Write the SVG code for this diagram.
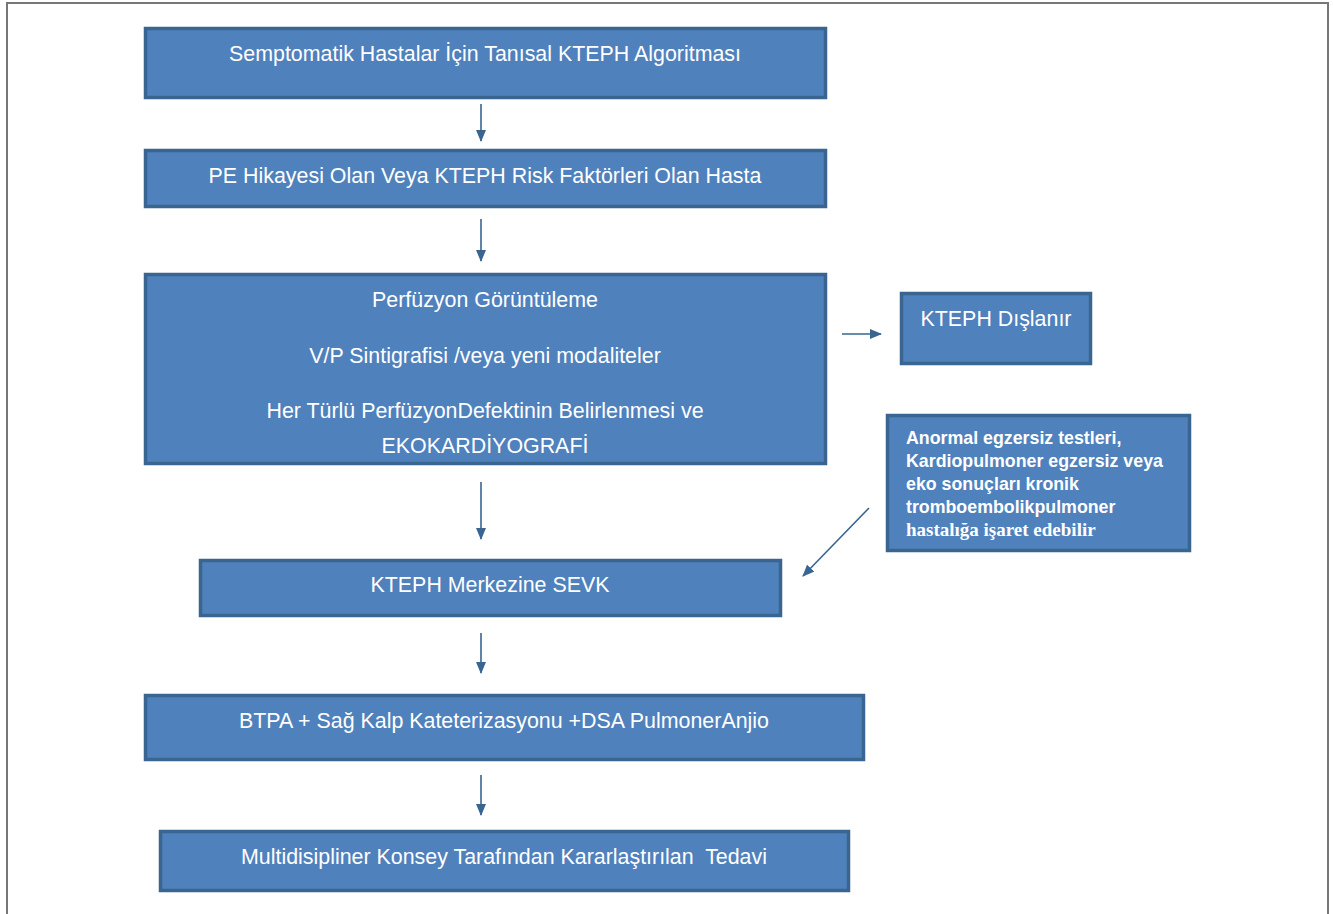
<svg xmlns="http://www.w3.org/2000/svg" width="1333" height="914" viewBox="0 0 1333 914">
<style>
.box{fill:#4f81bd;stroke:#3a6591;stroke-width:3.5}
.t{font-family:"Liberation Sans",Arial,sans-serif;font-size:21.4px;fill:#ffffff;text-anchor:middle}
.s{font-family:"Liberation Sans",Arial,sans-serif;font-size:17.8px;font-weight:bold;fill:#ffffff}
.ss{font-family:"Liberation Serif","Times New Roman",serif;font-size:19px;font-weight:bold;fill:#ffffff}
.c{stroke:#3a6591;stroke-width:1.6;fill:none;marker-end:url(#ah)}
</style>
<defs>
<marker id="ah" markerWidth="12" markerHeight="10" refX="11" refY="5" orient="auto" markerUnits="userSpaceOnUse" viewBox="0 0 12 10">
<path d="M0,0 L12,5 L0,10 Z" fill="#3a6591"/>
</marker>
</defs>
<rect x="0" y="0" width="1333" height="914" fill="#ffffff"/>
<path d="M7,914 V3 H1328 V914" fill="none" stroke="#777777" stroke-width="2"/>
<g id="n1"><rect class="box" x="145.5" y="28.5" width="680" height="69"/><text class="t" x="485" y="61">Semptomatik Hastalar İçin Tanısal KTEPH Algoritması</text></g>
<g id="n2"><rect class="box" x="145.5" y="150.5" width="680" height="56"/><text class="t" x="485" y="183">PE Hikayesi Olan Veya KTEPH Risk Faktörleri Olan Hasta</text></g>
<g id="n3"><rect class="box" x="145.5" y="274.5" width="680" height="189"/>
<text class="t" x="485" y="307">Perfüzyon Görüntüleme</text>
<text class="t" x="485" y="363">V/P Sintigrafisi /veya yeni modaliteler</text>
<text class="t" x="485" y="418">Her Türlü PerfüzyonDefektinin Belirlenmesi ve</text>
<text class="t" x="485" y="453">EKOKARDİYOGRAFİ</text></g>
<g id="n4"><rect class="box" x="901.5" y="293.5" width="189" height="70"/><text class="t" x="996" y="326">KTEPH Dışlanır</text></g>
<g id="n5"><rect class="box" x="887.5" y="415.5" width="302" height="135"/>
<text class="s" x="906" y="444">Anormal egzersiz testleri,</text>
<text class="s" x="906" y="467">Kardiopulmoner egzersiz veya</text>
<text class="s" x="906" y="490">eko sonuçları kronik</text>
<text class="s" x="906" y="513">tromboembolikpulmoner</text>
<text class="ss" x="906" y="536">hastalığa işaret edebilir</text></g>
<g id="n6"><rect class="box" x="200.5" y="560.5" width="580" height="55"/><text class="t" x="490" y="592">KTEPH Merkezine SEVK</text></g>
<g id="n7"><rect class="box" x="145.5" y="695.5" width="718" height="64"/><text class="t" x="504" y="728">BTPA + Sağ Kalp Kateterizasyonu +DSA PulmonerAnjio</text></g>
<g id="n8"><rect class="box" x="160.5" y="831.5" width="688" height="59"/><text class="t" x="504" y="864" xml:space="preserve">Multidisipliner Konsey Tarafından Kararlaştırılan  Tedavi</text></g>
<g id="connectors">
<line class="c" x1="481" y1="104" x2="481" y2="141"/>
<line class="c" x1="481" y1="219" x2="481" y2="261"/>
<line class="c" x1="842" y1="334" x2="881" y2="334"/>
<line class="c" x1="481" y1="482" x2="481" y2="539"/>
<line class="c" x1="869" y1="508" x2="803" y2="576"/>
<line class="c" x1="481" y1="633" x2="481" y2="673"/>
<line class="c" x1="481" y1="775" x2="481" y2="815"/>
</g>
</svg>
